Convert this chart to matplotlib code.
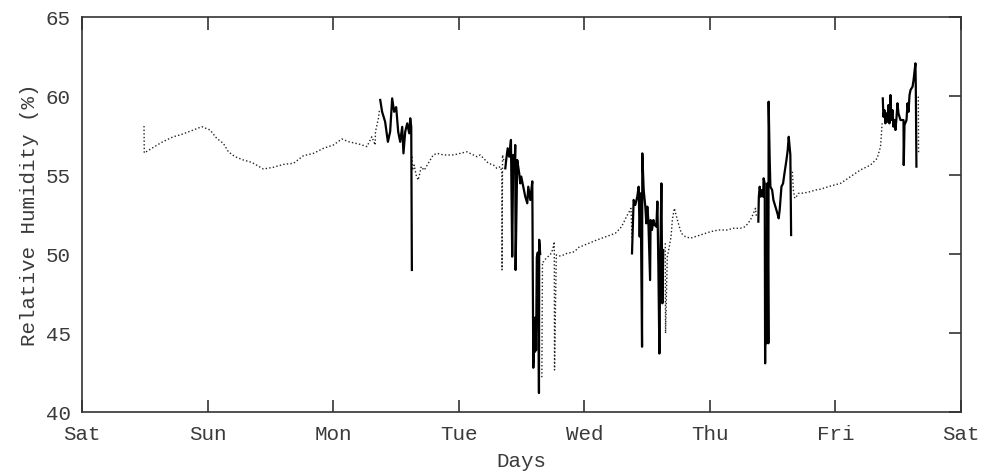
import matplotlib
matplotlib.use("Agg")
import numpy as np
import matplotlib.pyplot as plt

# time in days since Saturday 00:00, relative humidity in %
dotted_days = [
    0.494, 0.496, 0.568, 0.635, 0.727, 0.794, 0.887, 0.954, 1.020, 1.073,
    1.126, 1.166, 1.219, 1.285, 1.352, 1.445, 1.524, 1.604, 1.684, 1.763,
    1.843, 1.923, 2.002, 2.069, 2.122, 2.215, 2.269, 2.308, 2.335, 2.337,
    2.361, 2.370, np.nan,
    2.629, 2.632, 2.645, 2.661, 2.677, 2.693, 2.701, 2.725, 2.749, 2.773,
    2.797, 2.829, 2.879, 2.959, 3.065, 3.145, 3.171, 3.211, 3.237, 3.277,
    3.304, 3.331, 3.344, 3.345, 3.349, 3.363, np.nan,
    3.662, 3.667, 3.676, 3.695, 3.716, 3.737, 3.751, 3.761, 3.763, 3.777,
    3.795, 3.822, 3.849, 3.875, 3.902, 3.928, 3.955, 3.968, 4.101, 4.207,
    4.247, 4.287, 4.311, 4.335, 4.351, 4.372, 4.380, np.nan,
    4.645, 4.647, 4.661, 4.677, 4.691, 4.701, 4.717, 4.749, 4.773, 4.805,
    4.845, 4.884, 4.924, 4.964, 5.004, 5.068, 5.139, 5.187, 5.243, 5.283,
    5.323, 5.347, 5.363, 5.371, np.nan,
    5.657, 5.665, 5.676, 5.689, 5.705, 5.729, 5.761, 5.801, 5.841, 5.880,
    5.960, 6.040, 6.120, 6.199, 6.279, 6.332, 6.359, 6.372, np.nan,
    6.660, 6.662,
]
dotted_rh = [
    58.1, 56.4, 56.75, 57.07, 57.42, 57.57, 57.85, 58.06, 57.85, 57.32,
    57.0, 56.47, 56.16, 55.95, 55.8, 55.38, 55.49, 55.67, 55.74, 56.22,
    56.37, 56.69, 56.9, 57.28, 57.11, 56.94, 56.8, 57.42, 56.9, 57.74,
    58.6, 59.2, np.nan,
    56.16, 55.3, 55.63, 55.0, 54.68, 55.2, 55.53, 55.3, 55.63, 55.95,
    56.27, 56.37, 56.27, 56.27, 56.47, 56.16, 56.27, 55.95, 55.74, 55.63,
    55.42, 55.53, 55.21, 49.0, 56.27, 55.8, np.nan,
    42.2, 49.5, 49.51, 49.72, 49.87, 50.04, 50.36, 50.78, 42.66, 49.94,
    49.87, 49.89, 50.0, 50.08, 50.08, 50.2, 50.42, 50.46, 50.89, 51.2,
    51.31, 51.63, 51.94, 52.36, 52.58, 52.89, 50.9, np.nan,
    50.68, 44.98, 49.83, 50.46, 51.1, 52.15, 52.89, 51.94, 51.31, 51.1,
    51.0, 51.1, 51.2, 51.31, 51.41, 51.52, 51.52, 51.63, 51.63, 51.73,
    52.15, 52.57, 52.89, 52.36, np.nan,
    55.21, 54.05, 53.53, 53.63, 53.84, 53.84, 53.88, 53.95, 54.05, 54.1,
    54.3, 54.47, 54.9, 55.32, 55.63, 56.05, 56.79, 58.27, np.nan,
    59.96, 56.37,
]

solid_days = [
    2.375, 2.390, 2.414, 2.436, 2.454, 2.470, 2.486, 2.502, 2.518, 2.534,
    2.550, 2.560, 2.574, 2.590, 2.606, 2.614, 2.622, 2.627, np.nan,
    3.371, 3.378, 3.390, 3.402, 3.416, 3.426, 3.434, 3.445, 3.450, 3.453,
    3.466, 3.482, 3.490, 3.498, 3.514, 3.530, 3.546, 3.554, 3.570, 3.586,
    3.594, 3.602, 3.606, 3.612, 3.616, 3.622, 3.630, 3.633, 3.639, 3.641,
    3.649, np.nan,
    4.380, 4.393, 4.406, 4.422, 4.433, 4.441, 4.449, 4.460, 4.462, 4.473,
    4.486, 4.494, 4.502, 4.510, 4.524, 4.528, 4.539, 4.550, 4.560, 4.574,
    4.582, 4.590, 4.598, 4.606, 4.614, 4.622, 4.629, np.nan,
    5.386, 5.390, 5.397, 5.405, 5.416, 5.424, 5.428, 5.437, 5.440, 5.444,
    5.450, 5.458, 5.466, 5.468, 5.476, 5.482, 5.496, 5.506, 5.522, 5.538,
    5.548, 5.556, 5.570, 5.583, 5.594, 5.610, 5.620, 5.628, 5.636, 5.641,
    5.647, np.nan,
    6.377, 6.382, 6.390, 6.398, 6.406, 6.414, 6.422, 6.430, 6.438, 6.446,
    6.454, 6.462, 6.470, 6.478, 6.486, 6.494, 6.502, 6.518, 6.542, 6.544,
    6.550, 6.566, 6.574, 6.582, 6.590, 6.598, 6.614, 6.622, 6.637, 6.640,
    6.645,
]
solid_rh = [
    59.75, 59.0, 58.37, 57.1, 57.74, 59.85, 59.0, 59.3, 57.74, 57.1,
    58.05, 56.37, 57.74, 58.27, 57.64, 58.59, 58.05, 48.99, np.nan,
    55.42, 55.95, 56.69, 56.16, 57.22, 49.83, 56.27, 55.32, 56.9, 48.99,
    55.95, 55.1, 54.47, 54.9, 54.26, 53.63, 53.21, 54.26, 53.42, 54.6,
    42.8, 45.0, 43.8, 46.0, 43.9, 49.8, 50.1, 49.5, 41.2, 50.9,
    50.0, np.nan,
    50.04, 53.42, 53.1, 53.63, 54.26, 51.1, 53.84, 44.13, 56.37, 54.05,
    53.0, 51.94, 53.0, 52.15, 48.35, 52.15, 51.52, 52.15, 51.84, 51.73,
    53.32, 49.2, 43.7, 50.25, 54.47, 46.88, 50.25, np.nan,
    52.05, 53.63, 54.26, 53.63, 54.05, 53.63, 54.79, 54.47, 43.08, 50.89,
    44.35, 54.47, 44.35, 59.64, 56.16, 54.26, 54.05, 53.42, 53.0, 52.57,
    52.26, 52.78, 54.26, 54.47, 55.1, 55.95, 56.58, 57.42, 56.69, 56.27,
    51.2, np.nan,
    59.85, 58.69, 59.11, 58.27, 58.9, 58.37, 59.43, 58.27, 60.06, 58.48,
    59.11, 58.06, 58.48, 57.85, 58.59, 59.54, 58.9, 58.48, 58.48, 55.63,
    58.16, 58.48, 59.54, 59.0, 60.06, 60.38, 60.59, 61.0, 62.07, 60.6,
    55.53,
]

day_ticks = [0, 1, 2, 3, 4, 5, 6, 7]
day_labels = ["Sat", "Sun", "Mon", "Tue", "Wed", "Thu", "Fri", "Sat"]
rh_ticks = [40, 45, 50, 55, 60, 65]

plt.rcParams["font.family"] = ["Liberation Mono", "DejaVu Sans Mono"]
edge = "#333333"
text_color = "#3a3a3a"

fig = plt.figure(figsize=(9.89, 4.74), dpi=100)
ax = fig.add_axes([0.0829, 0.1308, 0.8888, 0.8333])

ax.plot(dotted_days, dotted_rh, color="#222222", linewidth=1.0,
        linestyle=(0, (1, 1.6)))
ax.plot(solid_days, solid_rh, color="black", linewidth=1.6)

ax.set_xlim(0, 7)
ax.set_ylim(40, 65)
ax.set_xticks(day_ticks, day_labels)
ax.set_yticks(rh_ticks)

ax.tick_params(axis="x", direction="in", top=True, bottom=True,
               length=9, width=1.2, color=edge, labelsize=15,
               labelcolor=text_color, pad=9)
ax.tick_params(axis="y", direction="in", left=False, right=True,
               length=9, width=1.2, color=edge, labelsize=15,
               labelcolor=text_color, pad=8)
for spine in ax.spines.values():
    spine.set_color(edge)
    spine.set_linewidth(1.2)

ax.set_xlabel("Days", fontsize=15, color=text_color, labelpad=6)
ax.set_ylabel("Relative Humidity (%)", fontsize=15, color=text_color,
              labelpad=5)

fig.savefig("out.png", dpi=100)
